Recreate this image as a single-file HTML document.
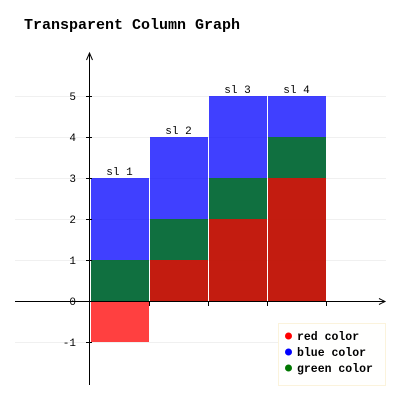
<!DOCTYPE html>
<html><head><meta charset="utf-8"><style>
body{margin:0;background:#fff}
svg{display:block}
text{font-family:"Liberation Mono","DejaVu Sans Mono",monospace}
</style></head><body>
<svg id="c" width="400" height="400" xmlns="http://www.w3.org/2000/svg">
<text x="24" y="29" font-size="15" font-weight="bold">Transparent Column Graph</text>
<g id="grid"></g><g id="bars"></g><g id="axes"></g>
<g>
<rect x="278.5" y="323.5" width="107" height="62" fill="#fffffe" stroke="#fbf3dc"/>
<g id="leg"></g>
</g>
</svg>
<script>
const categories=["sl 1","sl 2","sl 3","sl 4"];
const redValues=[-1,1,2,3];
const blueValues=[3,4,5,5];
const greenValues=[1,2,3,4];
const yTicks=[-1,0,1,2,3,4,5];
const seriesNames=["red color","blue color","green color"];
const NS="http://www.w3.org/2000/svg";
const svg=document.getElementById('c');
function el(tag,attrs,parent){const e=document.createElementNS(NS,tag);for(const k in attrs)e.setAttribute(k,attrs[k]);parent.appendChild(e);return e;}
const y0=301,unit=41,x0=90,bw=59;
const yS=v=>y0-v*unit;
const xS=i=>x0+i*bw;
const grid=document.getElementById('grid'),axes=document.getElementById('axes'),bars=document.getElementById('bars');
yTicks.forEach(t=>{
 if(t!==0){const g=el('line',{x1:15,x2:386,y1:yS(t)+0.5,y2:yS(t)+0.5,stroke:'#f0f0f0'},grid);
 }
 const tk=el('line',{x1:86,x2:92,y1:yS(t)+0.5,y2:yS(t)+0.5,stroke:'#000'},axes);
 
 const tx=el('text',{x:76,y:yS(t)+4,'font-size':11,'text-anchor':'end'},axes);tx.textContent=t;
 
});
const series=[[blueValues,'rgba(0,0,255,0.75)','blue'],[greenValues,'rgba(0,128,0,0.75)','green'],[redValues,'rgba(255,0,0,0.75)','red']];
series.forEach(([vals,col,nm])=>{
 vals.forEach((v,i)=>{
  const top=Math.min(yS(v),y0),h=Math.abs(yS(v)-y0);
  const r=el('rect',{x:xS(i)+1,y:top,width:bw-1,height:h,fill:col},bars);
  
 });
});
categories.forEach((c,i)=>{
 const mx=Math.max(redValues[i],blueValues[i],greenValues[i]);
 const t=el('text',{x:xS(i)+bw/2,y:yS(mx)-3,'font-size':11,'text-anchor':'middle'},axes);t.textContent=c;
 
 const tk=el('line',{x1:xS(i+1)+0.5,x2:xS(i+1)+0.5,y1:y0,y2:y0+5,stroke:'#000'},axes);
 
});
const xa=el('path',{d:'M15 301.5H384M379 298.5L385 301.5L379 304.5',stroke:'#000',fill:'none'},axes);

const ya=el('path',{d:'M89.5 385V54M86.5 60L89.5 53L92.5 60',stroke:'#000',fill:'none'},axes);

const leg=document.getElementById('leg');
const lc=['#ff0000','#0000ff','#007700'];
seriesNames.forEach((n,i)=>{
 const y=336+i*16;
 const c=el('circle',{cx:288.5,cy:y,r:3.5,fill:lc[i]},leg);
 
 const t=el('text',{x:297,y:y+4,'font-size':11.5,'font-weight':'bold'},leg);t.textContent=n;
 
});
</script>
</body></html>
